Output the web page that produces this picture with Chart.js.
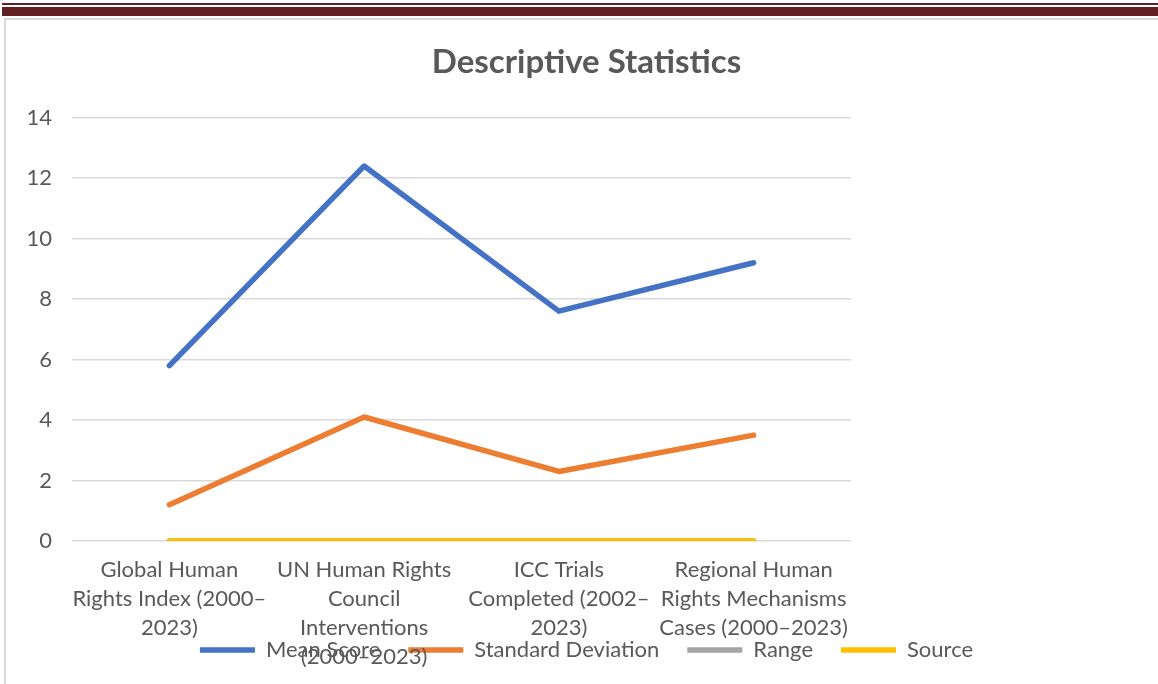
<!DOCTYPE html>
<html>
<head>
<meta charset="utf-8">
<script src="https://cdn.jsdelivr.net/npm/chart.js@4/dist/chart.umd.min.js"></script>
<style>
  body { margin: 0; background: #fff; width: 1158px; height: 684px; overflow: hidden; position: relative; }
  .bar1 { position: absolute; left: 2px; right: 0; top: 3px; height: 2px; background: #632023; }
  .bar2 { position: absolute; left: 2px; right: 0; top: 7px; height: 9px; background: #632023; }
  .box { position: absolute; left: 4px; top: 18px; right: -2px; bottom: -2px; border: 2px solid #d9d9d9; }
  .wrap { position: absolute; left: 6px; top: 20px; width: 1152px; height: 664px; }
</style>
</head>
<body>
<div class="bar1"></div>
<div class="bar2"></div>
<div class="box"></div>
<div class="wrap"><canvas id="myChart"></canvas></div>
<script>
const categories = [
  ["Global Human", "Rights Index (2000–", "2023)"],
  ["UN Human Rights", "Council", "Interventions", "(2000–2023)"],
  ["ICC Trials", "Completed (2002–", "2023)"],
  ["Regional Human", "Rights Mechanisms", "Cases (2000–2023)"],
];
const meanScore = [5.8, 12.4, 7.6, 9.2];
const stdDev = [1.2, 4.1, 2.3, 3.5];
const range = [0, 0, 0, 0];
const source = [0, 0, 0, 0];

const font = "Lato, sans-serif";
const textColor = "#595959";

const line = (label, data, color, order) => ({
  label: label,
  data: data,
  borderColor: color,
  backgroundColor: color,
  borderWidth: 5.5,
  borderCapStyle: "round",
  borderJoinStyle: "round",
  pointRadius: 0,
  tension: 0,
  order: order,
});

// let the x labels run down under the legend like the original does
const labelOverflow = {
  id: "labelOverflow",
  afterLayout: (chart) => {
    chart.scales.x.bottom = chart.height;
  },
};

const ctx = document.getElementById("myChart");
const myChart = new Chart(ctx, {
  type: "line",
  data: {
    labels: categories,
    datasets: [
      line("Mean Score", meanScore, "#4472C4", 3),
      line("Standard Deviation", stdDev, "#ED7D31", 2),
      line("Range", range, "#A5A5A5", 1),
      line("Source", source, "#FFC000", 0),
    ],
  },
  plugins: [labelOverflow],
  options: {
    responsive: true,
    maintainAspectRatio: false,
    animation: false,
    layout: {
      padding: { left: 9, right: 0, top: 0, bottom: 13 },
    },
    plugins: {
      title: {
        display: true,
        text: "Descriptive Statistics",
        color: textColor,
        font: { family: font, size: 33, weight: "bold" },
        padding: { top: 23, bottom: 35 },
      },
      legend: {
        position: "bottom",
        labels: {
          usePointStyle: true,
          pointStyle: "line",
          pointStyleWidth: 55,
          color: textColor,
          font: { family: font, size: 22 },
          padding: 28,
          sort: (a, b) => a.datasetIndex - b.datasetIndex,
        },
      },
      tooltip: { enabled: false },
    },
    scales: {
      x: {
        offset: true,
        grid: { display: false },
        border: { display: false },
        ticks: {
          color: textColor,
          font: { family: font, size: 22, lineHeight: 1.32 },
          maxRotation: 0,
          autoSkip: false,
          padding: 6,
        },
        afterFit: (scale) => {
          scale.height = 70;
        },
      },
      y: {
        min: 0,
        max: 14,
        grid: { color: "#d9d9d9", lineWidth: 1.5, drawTicks: false },
        border: { display: false },
        ticks: {
          stepSize: 2,
          color: textColor,
          font: { family: font, size: 22 },
          padding: 20,
        },
        afterFit: (scale) => {
          scale.width = 57;
        },
      },
      right: {
        position: "right",
        grid: { display: false },
        border: { display: false },
        ticks: { display: false },
        afterFit: (scale) => {
          scale.width = 307;
        },
      },
    },
  },
});
</script>
</body>
</html>
